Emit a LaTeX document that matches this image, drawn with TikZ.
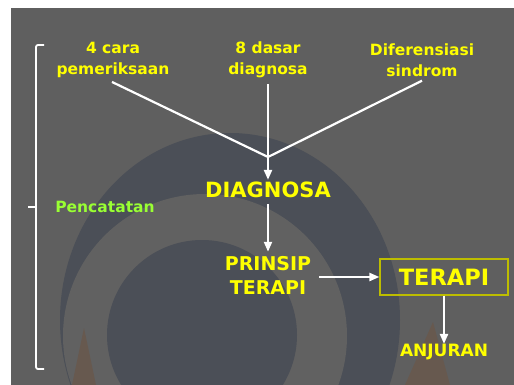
\documentclass[tikz,border=0pt]{standalone}
\usepackage{fontspec}
\setmainfont{DejaVu Sans}
\usepackage{xcolor}
\usetikzlibrary{arrows.meta}
\definecolor{bggray}{HTML}{5F5F5F}
\definecolor{swirl}{HTML}{4B4F57}
\definecolor{ringgray}{HTML}{616161}
\definecolor{rust}{HTML}{67594F}
\definecolor{txtyellow}{HTML}{FFFF00}
\definecolor{txtgreen}{HTML}{99FF33}
\definecolor{boxline}{HTML}{BDBD00}

\tikzset{
  source/.style={text=txtyellow, font=\bfseries\fontsize{15.5}{21}\selectfont, align=center, inner sep=2pt},
  stage/.style={text=txtyellow, font=\bfseries\fontsize{21}{24}\selectfont, inner sep=2pt},
  flow/.style={draw=white, line width=2.2pt},
  flowarrow/.style={flow, -{Triangle[length=10pt,width=8pt]}}
}

\begin{document}
\begin{tikzpicture}[x=1pt,y=1pt]
			\useasboundingbox (0,0) rectangle (514,-385);
			\fill [white] (0,0) rectangle (514,-385);
			\fill [bggray] (11,-8) rectangle (514,-385);
			% background swirl
			\begin{scope}
			\clip (11,-8) rectangle (514,-385);
			\fill [swirl] (230,-320) ellipse (170 and 187);
			\fill [ringgray] (205,-336) circle (142);
			\fill [swirl] (202,-335) circle (95);
			\fill [rust] (72,-385) -- (84,-328) -- (96,-385) -- cycle;
			\fill [rust] (405,-385) -- (433,-322) -- (450,-385) -- cycle;
			\end{scope}
			% bracket
			\draw [white, line width=1.8pt, rounded corners=2pt] (44,-45) -- (36,-45) -- (36,-369) -- (44,-369);
			\draw [white, line width=1.8pt] (36,-207) -- (28,-207);
			\node (pencatatan) at (105,-207) [text=txtgreen, font=\bfseries\fontsize{15.5}{18}\selectfont] {Pencatatan};
			% sources
			\node (cara) at (113,-60) [source] {4 cara\\pemeriksaan};
			\node (dasar) at (268,-60) [source] {8 dasar\\diagnosa};
			\node (sindrom) at (422,-60) [source] {Diferensiasi\\sindrom};
			\coordinate (meet) at (268,-157);
			% stages
			\node (diagnosa) at (268,-190) [stage] {DIAGNOSA};
			\node (prinsip) at (268,-275) [source, font=\bfseries\fontsize{19}{24}\selectfont] {PRINSIP\\TERAPI};
			\node (terapi) at (444,-277) [stage, draw=boxline, line width=1.2pt, minimum width=128pt, minimum height=36pt, font=\bfseries\fontsize{22.5}{24}\selectfont] {TERAPI};
			\node (anjuran) at (444,-352) [stage, font=\bfseries\fontsize{17}{20}\selectfont] {ANJURAN};
			% connectors
			\draw [flow] ([xshift=-1pt,yshift=-2pt]cara.south) -- (meet);
			\draw [flow] ([yshift=-2pt]sindrom.south) -- (meet);
			\draw [flowarrow] ([yshift=-4pt]dasar.south) -- (diagnosa.north);
			\draw [flowarrow] ([yshift=-4pt]diagnosa.south) -- ([yshift=2pt]prinsip.north);
			\draw [flowarrow] ([xshift=6pt,yshift=-2pt]prinsip.east) -- (terapi.west);
			\draw [flowarrow] (terapi.south) -- ([yshift=-2pt]anjuran.north);
		\end{tikzpicture}
\end{document}
